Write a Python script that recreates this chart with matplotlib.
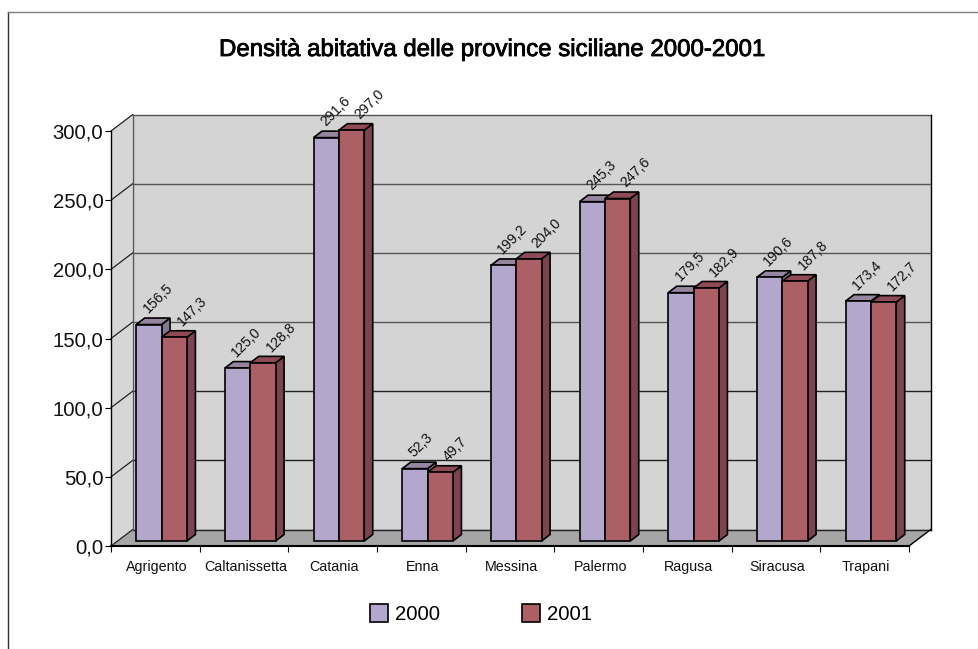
import matplotlib
matplotlib.use('Agg')
import matplotlib.pyplot as plt
import matplotlib.patheffects as pe
from matplotlib.lines import Line2D
from matplotlib.patches import Polygon, Patch

plt.rcParams['font.family'] = ['Liberation Sans', 'DejaVu Sans']

province = ['Agrigento', 'Caltanissetta', 'Catania', 'Enna', 'Messina',
            'Palermo', 'Ragusa', 'Siracusa', 'Trapani']
dens_2000 = [156.5, 125.0, 291.6, 52.3, 199.2, 245.3, 179.5, 190.6, 173.4]
dens_2001 = [147.3, 128.8, 297.0, 49.7, 204.0, 247.6, 182.9, 187.8, 172.7]
yticks = [0, 50, 100, 150, 200, 250, 300]

W, H = 979, 649
fig = plt.figure(figsize=(W / 100, H / 100), dpi=100)
# front face of the fake 3d box, in pixels
x0, x1, y0, y1 = 111, 909, 546, 131
ax = fig.add_axes([x0 / W, 1 - y0 / H, (x1 - x0) / W, (y0 - y1) / H])
ax.set_xlim(0, 9)
ax.set_ylim(0, 300)
ax.patch.set_visible(False)

# depth of the box and the bars, in data units
wall_dx, wall_dy = 0.245, 11.9
bar_dx, bar_dy = 0.096, 4.7
bar_w = 0.286
bar_base = 3.6
group_off = 0.57


def poly(pts, fc, ec='none', lw=1.0, z=1):
    ax.add_patch(Polygon(pts, closed=True, fc=fc, ec=ec, lw=lw, zorder=z,
                         clip_on=False, joinstyle='miter'))


# walls and floor
poly([(wall_dx, wall_dy), (9 + wall_dx, wall_dy), (9 + wall_dx, 300 + wall_dy),
      (wall_dx, 300 + wall_dy)], '#d4d4d4')
poly([(0, 0), (wall_dx, wall_dy), (wall_dx, 300 + wall_dy), (0, 300)], '#d6d6d6')
poly([(0, 0), (9, 0), (9 + wall_dx, wall_dy), (wall_dx, wall_dy)], '#a6a6a6')

for t in yticks:
    ax.plot([wall_dx, 9 + wall_dx], [t + wall_dy, t + wall_dy],
            color='#555555' if t > 100 else '#222222', lw=1.0, zorder=2, clip_on=False)
    ax.plot([0, wall_dx], [t, t + wall_dy], color='#222222', lw=0.9, zorder=2, clip_on=False)
ax.plot([wall_dx, wall_dx], [wall_dy, 300 + wall_dy], color='#555555', lw=1.0, zorder=2, clip_on=False)
ax.plot([9 + wall_dx, 9 + wall_dx], [wall_dy, 300 + wall_dy], color='black', lw=1.0, zorder=2, clip_on=False)
ax.plot([9, 9 + wall_dx], [0, wall_dy], color='black', lw=1.0, zorder=2, clip_on=False)

series = [
    (dens_2000, '2000', 0, '#b3a7cd', '#95859f', '#86768e', 7.5),
    (dens_2001, '2001', 1, '#ad5f66', '#8f4a55', '#7c4350', 14),
]

z = 3
for i in range(len(province)):
    for vals, name, k, front, top, side, lab_dx in series:
        v = vals[i]
        left = i + group_off - bar_w + k * bar_w
        right = left + bar_w
        ytop = bar_base + v
        poly([(right, bar_base), (right + bar_dx, bar_base + bar_dy),
              (right + bar_dx, ytop + bar_dy), (right, ytop)], side, 'black', 1.2, z)
        poly([(left, ytop), (right, ytop), (right + bar_dx, ytop + bar_dy),
              (left + bar_dx, ytop + bar_dy)], top, 'black', 1.2, z)
        ax.bar(left, v, width=bar_w, bottom=bar_base, align='edge', color=front,
               edgecolor='black', linewidth=1.2, zorder=z + 0.5, clip_on=False)
        lab = ('%.1f' % v).replace('.', ',')
        ax.annotate(lab, (left + bar_w * 0.15, ytop + bar_dy), xytext=(lab_dx, 1.5),
                    textcoords='offset points', rotation=45, rotation_mode='anchor',
                    ha='left', va='bottom', fontsize=10.2, color='#111111', zorder=20,
                    annotation_clip=False)
        z += 1

for s in ['top', 'right']:
    ax.spines[s].set_visible(False)
ax.spines['left'].set_color('black')
ax.spines['left'].set_linewidth(1.0)
ax.spines['bottom'].set_color('black')
ax.spines['bottom'].set_linewidth(1.5)
ax.spines['left'].set_zorder(2.5)
ax.spines['bottom'].set_zorder(2.5)

ax.set_yticks(yticks)
ax.set_yticklabels([('%.1f' % t).replace('.', ',') for t in yticks], fontsize=14.6, color='#111111')
ax.set_xticks(range(10))
ax.set_xticklabels([])
ax.set_xticks([i + 0.517 for i in range(9)], labels=province, minor=True, fontsize=10.3, color='#111111')
ax.tick_params(axis='x', which='minor', length=0, pad=10)
ax.tick_params(axis='x', which='major', length=4.5, width=0.8)
ax.tick_params(axis='y', length=4, width=0.8, pad=1.5)

title = fig.text(492 / W, 1 - 50 / H, 'Densità abitativa delle province siciliane 2000-2001',
                 ha='center', va='center', fontsize=17.3, color='black',
                 path_effects=[pe.withStroke(linewidth=0.6, foreground='black')])

handles = [Patch(fc='#b3a7cd', ec='black', lw=1.2), Patch(fc='#ad5f66', ec='black', lw=1.2)]
fig.legend(handles, ['2000', '2001'], ncol=2, frameon=False, fontsize=14.6,
           loc='center', bbox_to_anchor=(481 / W, 1 - 614 / H), handlelength=0.9,
           handleheight=0.95, columnspacing=4.0, handletextpad=0.35)

# outer frame of the original chart, cut by the page
fig.add_artist(Line2D([8 / W, 8 / W], [0, 1 - 11.5 / H], color='#333333', lw=1.0))
fig.add_artist(Line2D([8 / W, 1], [1 - 11.5 / H, 1 - 11.5 / H], color='#808080', lw=1.0))

fig.savefig('out.png', dpi=100)
